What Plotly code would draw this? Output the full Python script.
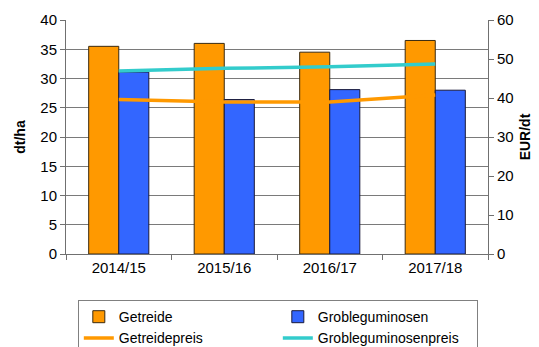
import plotly.graph_objects as go

categories = ["2014/15", "2015/16", "2016/17", "2017/18"]
getreide = [35.5, 36.0, 34.5, 36.5]
grobleguminosen = [31.1, 26.4, 28.1, 28.0]
getreidepreis = [39.6, 39.0, 39.0, 40.8]
grobleguminosenpreis = [46.9, 47.6, 48.0, 48.7]

fig = go.Figure()
fig.add_trace(go.Bar(x=categories, y=getreide, name="Getreide",
                     marker=dict(color="#FF9900", line=dict(color="#3a2a10", width=1))))
fig.add_trace(go.Bar(x=categories, y=grobleguminosen, name="Grobleguminosen",
                     marker=dict(color="#3366FF", line=dict(color="#1a1a3a", width=1))))
fig.add_trace(go.Scatter(x=categories, y=getreidepreis, name="Getreidepreis", mode="lines",
                         line=dict(color="#FF9900", width=3.5), yaxis="y2"))
fig.add_trace(go.Scatter(x=categories, y=grobleguminosenpreis, name="Grobleguminosenpreis", mode="lines",
                         line=dict(color="#33CCCC", width=3.5), yaxis="y2"))

fam = "Liberation Sans, Arial, sans-serif"
tickfont = dict(family=fam, size=15, color="#000000")
titlefont = dict(family=fam, size=14, color="#000000")

fig.update_layout(
    width=539, height=347,
    margin=dict(l=66, r=51, t=20, b=93, autoexpand=False),
    paper_bgcolor="white", plot_bgcolor="white",
    font=dict(family=fam, size=14, color="#000000"),
    barmode="group", bargap=0.43, bargroupgap=0,
    showlegend=True,
    legend=dict(orientation="h", x=0.028, y=-0.197, xanchor="left", yanchor="top",
                entrywidth=154, entrywidthmode="pixels",
                bordercolor="#808080", borderwidth=1, bgcolor="white",
                font=dict(family=fam, size=14, color="#000000"),
                traceorder="normal", itemwidth=30, tracegroupgap=0),
    xaxis=dict(showline=True, linecolor="#707070", linewidth=1,
               ticks="outside", tickson="boundaries", ticklen=5, tickcolor="#707070",
               showgrid=False, tickfont=tickfont),
    yaxis=dict(range=[0, 40], dtick=5, showline=True, linecolor="#707070", linewidth=1,
               ticks="outside", ticklen=5, tickcolor="#707070",
               showgrid=True, gridcolor="#7a7a7a", gridwidth=1, zeroline=False,
               title=dict(text="<b>dt/ha</b>", font=titlefont, standoff=11), tickfont=tickfont),
    yaxis2=dict(range=[0, 60], dtick=10, overlaying="y", side="right",
                showline=True, linecolor="#707070", linewidth=1,
                ticks="outside", ticklen=5, tickcolor="#707070",
                showgrid=False, zeroline=False,
                title=dict(text="<b>EUR/dt</b>", font=titlefont, standoff=7), tickfont=tickfont),
)

fig.write_html("out.html")
